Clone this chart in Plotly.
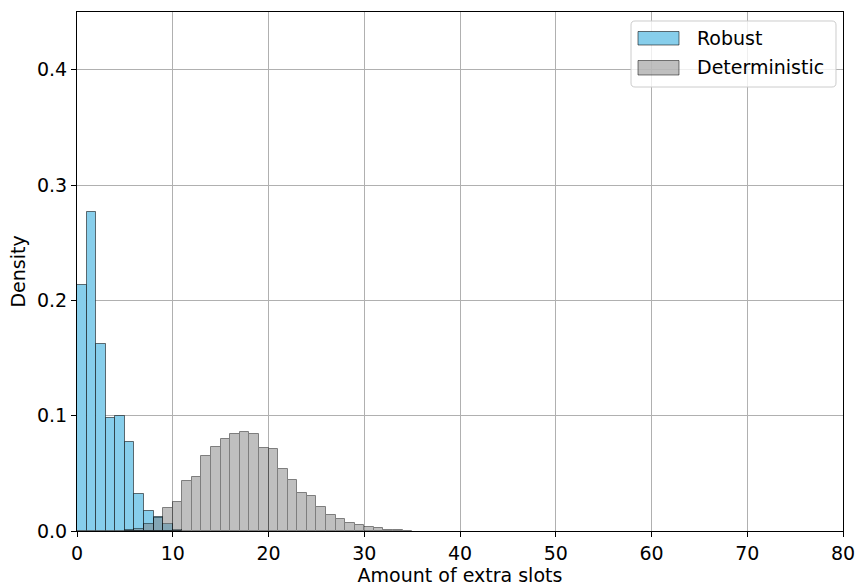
import plotly.graph_objects as go

# Histogram bins (left edges, width 1)
robust_bins = list(range(0, 11))
robust_density = [0.213, 0.277, 0.162, 0.098, 0.100, 0.077, 0.032, 0.017, 0.012, 0.006, 0.001]

det_bins = list(range(5, 35))
det_density = [0.0005, 0.002, 0.006, 0.011, 0.020, 0.025, 0.043, 0.047, 0.065, 0.073,
               0.080, 0.084, 0.086, 0.084, 0.072, 0.071, 0.054, 0.044, 0.033, 0.030,
               0.0205, 0.014, 0.010, 0.0067, 0.0055, 0.0035, 0.0025, 0.001, 0.0006, 0.0003]

x_ticks = [0, 10, 20, 30, 40, 50, 60, 70, 80]
y_ticks = [0.0, 0.1, 0.2, 0.3, 0.4]
y_tick_labels = ["0.0", "0.1", "0.2", "0.3", "0.4"]

series_names = ["Robust", "Deterministic"]
series_fill = ["#87CEEB", "rgba(128,128,128,0.5)"]
series_edge = ["rgba(0,0,0,0.55)", "rgba(0,0,0,0.5)"]

FONT = "DejaVu Sans"
W, H = 857, 586
ML, MR, MT, MB = 77, 14, 12, 55
PW, PH = W - ML - MR, H - MT - MB

fig = go.Figure()
fig.add_trace(go.Bar(
    x=robust_bins, y=robust_density, width=1, offset=0,
    name=series_names[0], showlegend=False,
    marker=dict(color="#87CEEB", line=dict(color="rgba(0,0,0,0.55)", width=1)),
))
fig.add_trace(go.Bar(
    x=det_bins, y=det_density, width=1, offset=0,
    name=series_names[1], opacity=0.5, showlegend=False,
    marker=dict(color="#808080", line=dict(color="#000000", width=1)),
))

axis_common = dict(
    showline=True, mirror=True, linecolor="#000000", linewidth=1,
    ticks="outside", ticklen=5, tickwidth=1, tickcolor="#000000",
    showgrid=True, gridcolor="#b0b0b0", gridwidth=1, zeroline=False,
    tickfont=dict(family=FONT, size=19, color="#000000"),
    automargin=False,
)

# custom legend (paper coordinates derived from pixel layout)
def px_x(p):
    return (p - ML) / PW

def px_y(p):
    return 1 - (p - MT) / PH

shapes = []
annotations = []
# legend box with rounded corners
bx0, bx1, by0, by1, r = 631, 836, 21, 87, 4
path = (f"M{bx0+r},{by0} L{bx1-r},{by0} Q{bx1},{by0} {bx1},{by0+r} "
        f"L{bx1},{by1-r} Q{bx1},{by1} {bx1-r},{by1} L{bx0+r},{by1} "
        f"Q{bx0},{by1} {bx0},{by1-r} L{bx0},{by0+r} Q{bx0},{by0} {bx0+r},{by0} Z")
# convert path pixel coords to paper coords
import re
def conv(m):
    x, y = float(m.group(1)), float(m.group(2))
    return f"{px_x(x):.5f},{px_y(y):.5f}"
paper_path = re.sub(r"(-?[\d.]+),(-?[\d.]+)", conv, path)
shapes.append(dict(type="path", xref="paper", yref="paper", path=paper_path,
                   fillcolor="rgba(255,255,255,0.8)", line=dict(color="#cccccc", width=1),
                   layer="above"))
rows_y = [(31.5, 45), (60.5, 75)]
for i, name in enumerate(series_names):
    y0, y1 = rows_y[i]
    shapes.append(dict(type="rect", xref="paper", yref="paper",
                       x0=px_x(638), x1=px_x(679), y0=px_y(y1), y1=px_y(y0),
                       fillcolor=series_fill[i], line=dict(color=series_edge[i], width=1),
                       layer="above"))
    annotations.append(dict(text=name, xref="paper", yref="paper",
                            x=px_x(695), y=px_y((y0 + y1) / 2 - 0.5),
                            xanchor="left", yanchor="middle", showarrow=False,
                            font=dict(family=FONT, size=19, color="#000000")))

fig.update_layout(
    width=W, height=H,
    margin=dict(l=ML, r=MR, t=MT, b=MB),
    paper_bgcolor="white", plot_bgcolor="white",
    barmode="overlay", bargap=0,
    font=dict(family=FONT, size=19, color="#000000"),
    xaxis=dict(range=[0, 80], tickvals=x_ticks, **axis_common,
               title=dict(text="Amount of extra slots", font=dict(family=FONT, size=19), standoff=3)),
    yaxis=dict(range=[0, 0.45], tickvals=y_ticks, ticktext=y_tick_labels, **axis_common,
               title=dict(text="Density", font=dict(family=FONT, size=19), standoff=6)),
    shapes=shapes,
    annotations=annotations,
    showlegend=False,
)

fig.write_html("out.html")
